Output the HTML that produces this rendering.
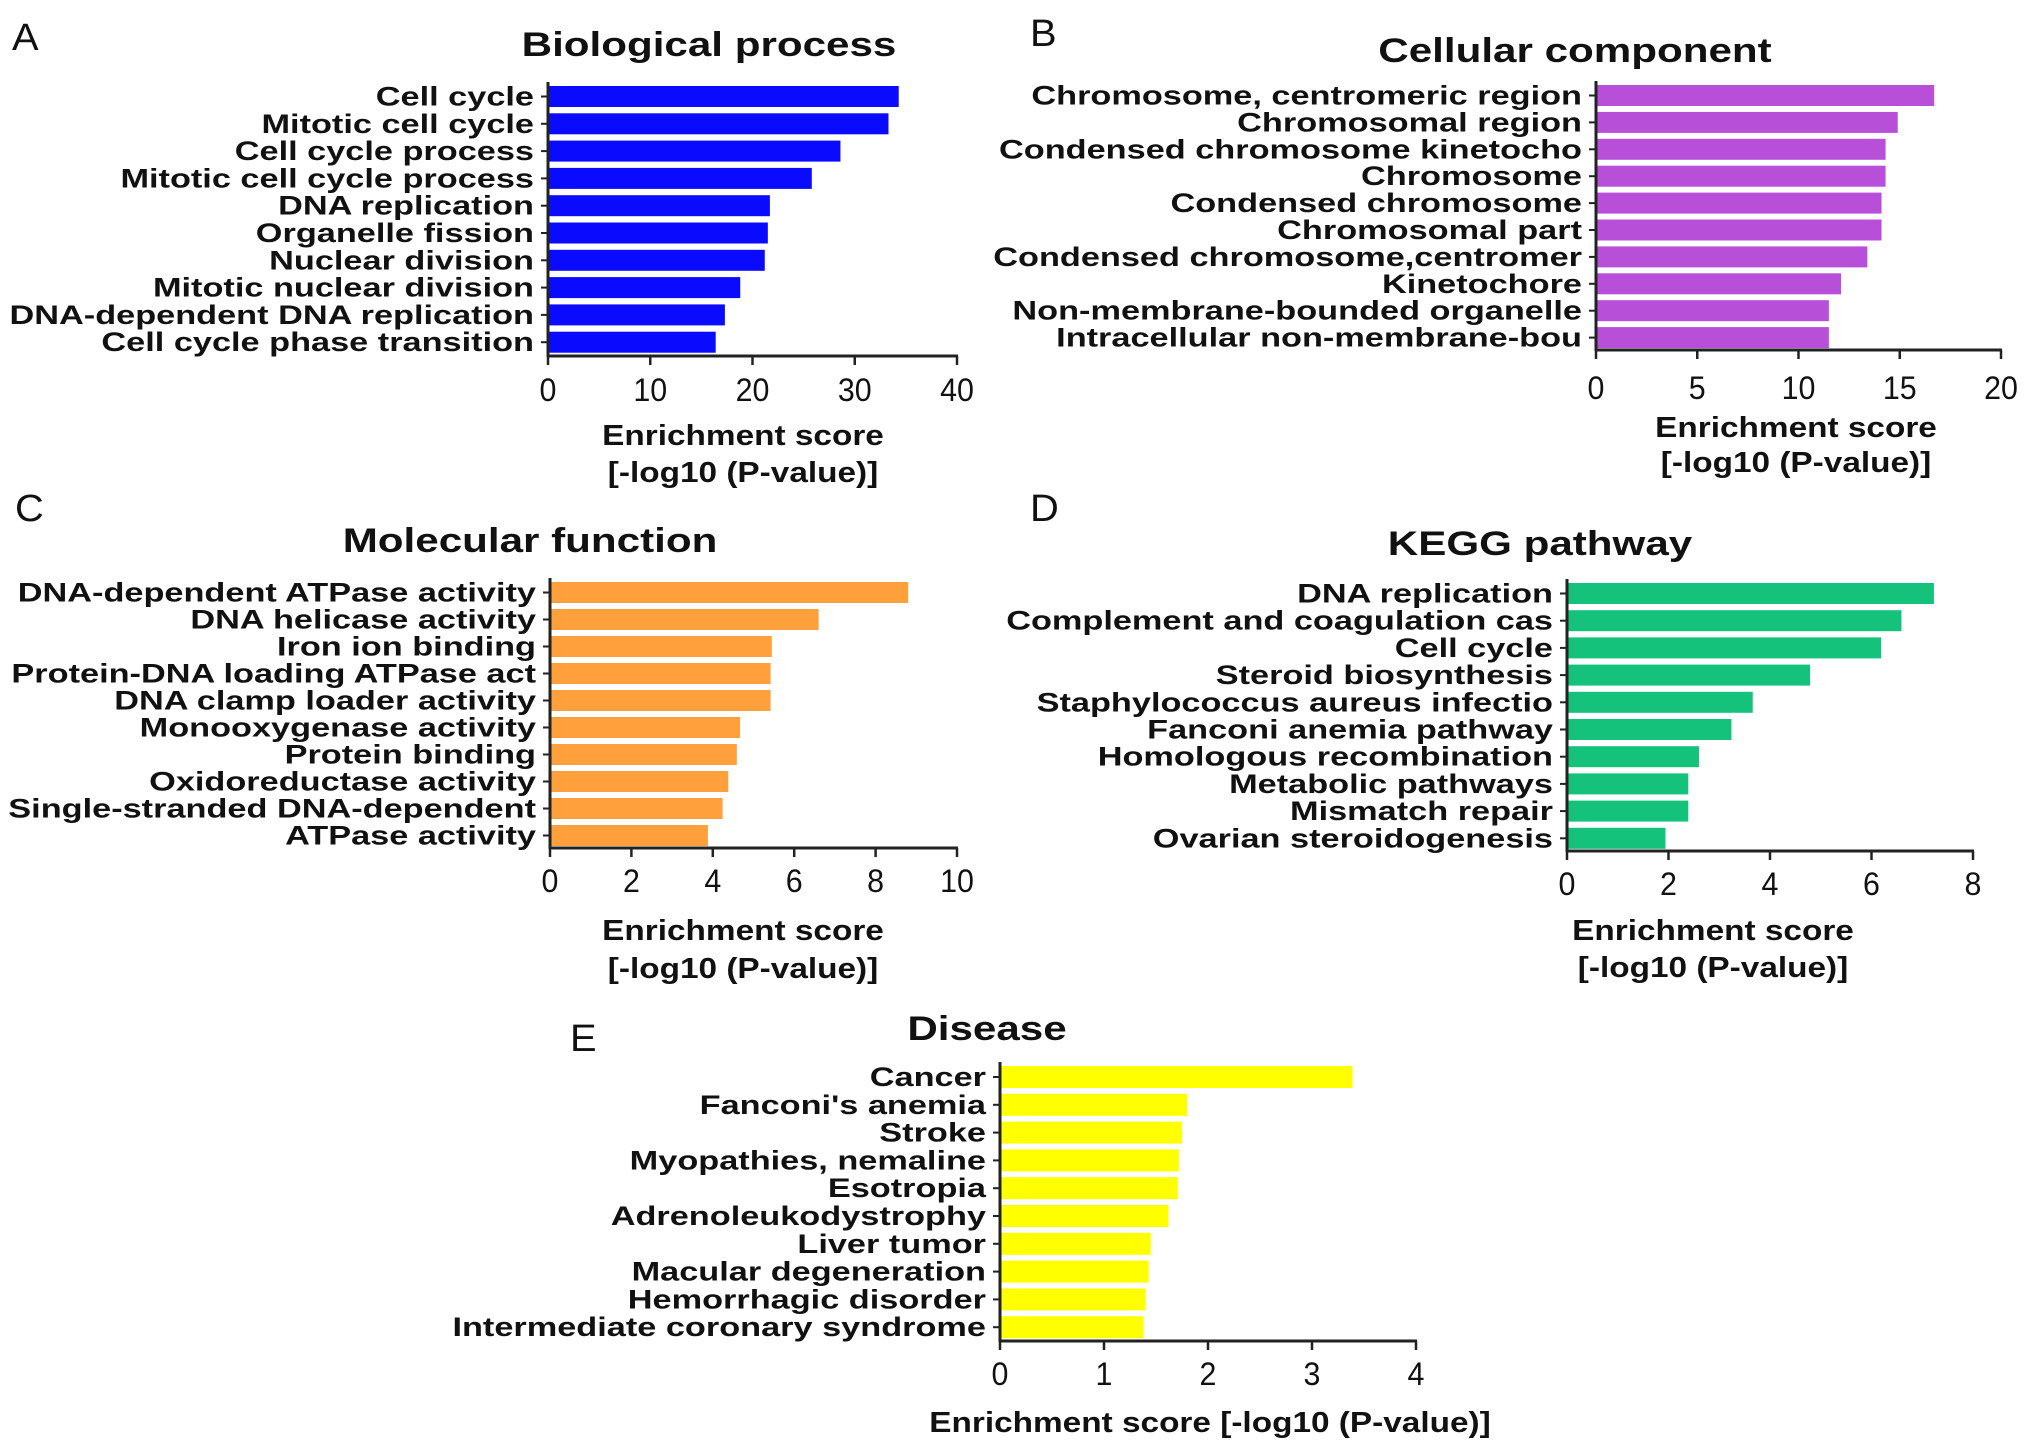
<!DOCTYPE html>
<html><head><meta charset="utf-8"><style>
html,body{margin:0;padding:0;background:#fff;}
svg{display:block;font-family:"Liberation Sans",Arial,sans-serif;}
</style></head><body>
<svg id="fig" xmlns="http://www.w3.org/2000/svg" width="2031" height="1450" viewBox="0 0 2031 1450"></svg>
<script>
const labelsA = ["Cell cycle","Mitotic cell cycle","Cell cycle process","Mitotic cell cycle process","DNA replication","Organelle fission","Nuclear division","Mitotic nuclear division","DNA-dependent DNA replication","Cell cycle phase transition"];
const valuesA = [34.3,33.3,28.6,25.8,21.7,21.5,21.2,18.8,17.3,16.4];
const ticksA = [0,10,20,30,40];

const labelsB = ["Chromosome, centromeric region","Chromosomal region","Condensed chromosome kinetocho","Chromosome","Condensed chromosome","Chromosomal part","Condensed chromosome,centromer","Kinetochore","Non-membrane-bounded organelle","Intracellular non-membrane-bou"];
const valuesB = [16.7,14.9,14.3,14.3,14.1,14.1,13.4,12.1,11.5,11.5];
const ticksB = [0,5,10,15,20];

const labelsC = ["DNA-dependent ATPase activity","DNA helicase activity","Iron ion binding","Protein-DNA loading ATPase act","DNA clamp loader activity","Monooxygenase activity","Protein binding","Oxidoreductase activity","Single-stranded DNA-dependent ","ATPase activity"];
const valuesC = [8.8,6.6,5.45,5.42,5.42,4.67,4.59,4.38,4.24,3.88];
const ticksC = [0,2,4,6,8,10];

const labelsD = ["DNA replication","Complement and coagulation cas","Cell cycle","Steroid biosynthesis","Staphylococcus aureus infectio","Fanconi anemia pathway","Homologous recombination","Metabolic pathways","Mismatch repair","Ovarian steroidogenesis"];
const valuesD = [7.23,6.59,6.19,4.79,3.66,3.24,2.6,2.39,2.39,1.94];
const ticksD = [0,2,4,6,8];

const labelsE = ["Cancer","Fanconi's anemia","Stroke","Myopathies, nemaline","Esotropia","Adrenoleukodystrophy","Liver tumor","Macular degeneration","Hemorrhagic disorder","Intermediate coronary syndrome"];
const valuesE = [3.39,1.8,1.75,1.72,1.71,1.62,1.45,1.43,1.40,1.38];
const ticksE = [0,1,2,3,4];

const NS = "http://www.w3.org/2000/svg";
const svg = document.getElementById('fig');
function el(tag, attrs, parent){
  const e = document.createElementNS(NS, tag);
  for (const k in attrs) e.setAttribute(k, attrs[k]);
  (parent||svg).appendChild(e);
  return e;
}
function txt(parent, s, x, y, size, weight, anchor, sx){
  const t = el('text', {transform:`translate(${x},${y}) scale(${sx},1)`, 'font-size':size, 'font-weight':weight, 'text-anchor':anchor, fill:'#111'}, parent);
  t.textContent = s;
  return t;
}

function panel(id, letter, lx, ly, title, tx, ty, labels, values, ticks, c){
  const g = el('g', {});
  
  
  const L = txt(g, letter, lx, ly, 38, 'normal', 'start', 1.05);
  
  
  const T = txt(g, title, tx, ty, 34, 'bold', 'middle', 1.24);
  
  
  const max = ticks[ticks.length-1];
  const xs = v => c.x0 + v / max * c.w;
  const yc = i => c.top + c.bh/2 + i * c.pitch;
  values.forEach((v, i) => {
    const r = el('rect', {x:c.x0, y:yc(i)-c.bh/2, width:xs(v)-c.x0, height:c.bh, fill:c.color}, g);
    
    
  });
  labels.forEach((s, i) => {
    const t = txt(g, s, c.x0 - 14, yc(i) + 9, 27, 'bold', 'end', 1.27);
    
    
    el('line', {x1:c.x0-7, x2:c.x0, y1:yc(i), y2:yc(i), stroke:'#222', 'stroke-width':2}, g);
  });
  const ya = el('line', {x1:c.x0, x2:c.x0, y1:c.top-4, y2:c.axisY+1, stroke:'#222', 'stroke-width':3}, g);
  
  
  const xa = el('line', {x1:c.x0-1, x2:c.x0+c.w+1, y1:c.axisY, y2:c.axisY, stroke:'#222', 'stroke-width':3}, g);
  
  
  ticks.forEach(tv => {
    el('line', {x1:xs(tv), x2:xs(tv), y1:c.axisY, y2:c.axisY+9, stroke:'#222', 'stroke-width':2.5}, g);
    const t = txt(g, String(tv), xs(tv), c.tickY+2, 32, 'normal', 'middle', 0.95);
    
    
  });
  c.xlab.forEach((s, k) => {
    const t = txt(g, s, c.xlx, c.xly[k], 29, 'bold', 'middle', 1.15);
    
    
  });
}

panel('a','A',12,50,'Biological process',709,56,labelsA,valuesA,ticksA,
  {x0:548,w:409,top:86,pitch:27.3,bh:21,axisY:356,tickY:399,color:'#0a0aff',
   xlab:['Enrichment score','[-log10 (P-value)]'],xlx:743,xly:[445,482]});
panel('b','B',1030,46,'Cellular component',1575,62,labelsB,valuesB,ticksB,
  {x0:1596,w:405,top:85,pitch:26.9,bh:21,axisY:350,tickY:397,color:'#b84fd9',
   xlab:['Enrichment score','[-log10 (P-value)]'],xlx:1796,xly:[437,472]});
panel('c','C',15,521,'Molecular function',530,552,labelsC,valuesC,ticksC,
  {x0:550,w:407,top:582,pitch:27,bh:21,axisY:848,tickY:890,color:'#ffa03c',
   xlab:['Enrichment score','[-log10 (P-value)]'],xlx:743,xly:[940,978]});
panel('d','D',1030,521,'KEGG pathway',1540,555,labelsD,valuesD,ticksD,
  {x0:1567,w:406,top:583,pitch:27.2,bh:21,axisY:851,tickY:893,color:'#14c27c',
   xlab:['Enrichment score','[-log10 (P-value)]'],xlx:1713,xly:[940,977]});
panel('e','E',570,1051,'Disease',987,1040,labelsE,valuesE,ticksE,
  {x0:1000,w:416,top:1066,pitch:27.8,bh:22,axisY:1341,tickY:1383,color:'#ffff00',
   xlab:['Enrichment score [-log10 (P-value)]'],xlx:1210,xly:[1432]});
</script>
</body></html>
